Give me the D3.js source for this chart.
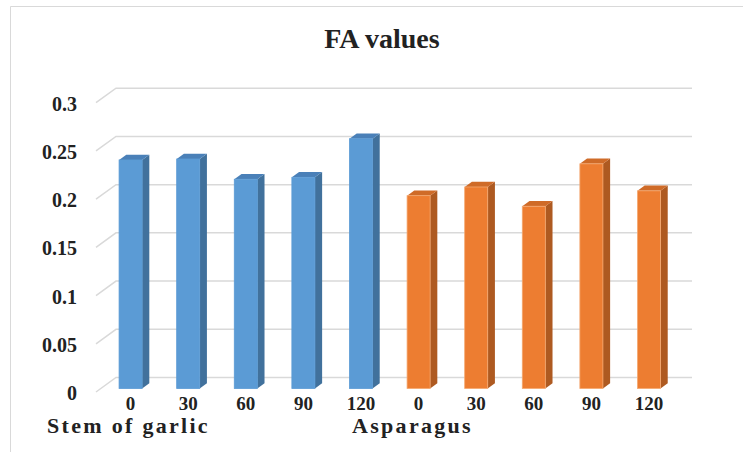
<!DOCTYPE html>
<meta charset="utf-8">
<style>
body { margin: 0; background: #fff; }
.grid { stroke: #d9d9d9; stroke-width: 1.5; fill: none; }
</style>
<svg width="743" height="452"></svg>
<script src="https://d3js.org/d3.v7.min.js"></script>
<script>

var groups = ["Stem of garlic", "Asparagus"];
var times = ["0", "30", "60", "90", "120"];
var garlic = [0.237, 0.238, 0.217, 0.219, 0.259];
var asparagus = [0.200, 0.209, 0.189, 0.233, 0.205];
var yTicks = [0, 0.05, 0.1, 0.15, 0.2, 0.25, 0.3];

var svg = d3.select("svg")
    .attr("font-family", "Liberation Serif")
    .attr("font-weight", "bold")
    .attr("fill", "#222");

// 3d box: front plane and a depth offset for the back wall
var depth = { dx: 20, dy: -14.5 };
var barDepth = { d0: 0.24, d1: 0.6 };

var cats = [];
groups.forEach(function(g, gi) {
  times.forEach(function(t, ti) {
    cats.push({ key: g + "|" + t, group: gi, time: t, value: (gi ? asparagus : garlic)[ti] });
  });
});

var x = d3.scaleBand()
    .domain(cats.map(function(d) { return d.key; }))
    .range([97, 673])
    .paddingInner(0.6)
    .paddingOuter(0.3);

var y = d3.scaleLinear()
    .domain([0, 0.3])
    .range([392, 102.7]);

var colors = [
  { front: "#5B9BD5", side: "#41719C", top: "#4A80B8", edge: "#5B9BD5" },
  { front: "#ED7D31", side: "#AE5A21", top: "#CF6B28", edge: "#F4A870" }
];

// border
svg.append("path")
    .attr("d", "M10.5,452V6.5H743")
    .attr("fill", "none")
    .attr("stroke", "#d9d9d9");

// title
svg.append("text")
    .attr("x", 382)
    .attr("y", 48)
    .attr("text-anchor", "middle")
    .attr("font-size", 28)
    .text("FA values");

// grid: side wall diagonals and back wall lines
var x0 = 96, x1 = 672;
var grid = svg.append("g");
yTicks.forEach(function(t) {
  grid.append("path")
      .attr("class", "grid")
      .attr("d", "M" + x0 + "," + y(t) + "l" + depth.dx + "," + depth.dy +
        "H" + (x1 + depth.dx));
});

// y tick labels
svg.append("g").selectAll("text")
  .data(yTicks)
  .join("text")
    .attr("x", 77)
    .attr("y", function(d) { return y(d) + 1; })
    .attr("dy", "0.35em")
    .attr("text-anchor", "end")
    .attr("font-size", 20)
    .text(function(d) { return d3.format("")(d); });

// bars
var ox = depth.dx * barDepth.d0, oy = depth.dy * barDepth.d0;
var sx = depth.dx * (barDepth.d1 - barDepth.d0), sy = depth.dy * (barDepth.d1 - barDepth.d0);
var w = x.bandwidth();

var bar = svg.append("g").selectAll("g")
  .data(cats)
  .join("g");

bar.append("path")
    .attr("fill", function(d) { return colors[d.group].side; })
    .attr("d", function(d) {
      var bx = x(d.key) + ox + w, top = y(d.value) + oy, bot = y(0) + oy;
      return "M" + bx + "," + top + "l" + sx + "," + sy + "V" + (bot + sy) + "L" + bx + "," + bot + "Z";
    });

bar.append("path")
    .attr("fill", function(d) { return colors[d.group].top; })
    .attr("d", function(d) {
      var bx = x(d.key) + ox, top = y(d.value) + oy;
      return "M" + bx + "," + top + "l" + sx + "," + sy + "h" + w + "l" + (-sx) + "," + (-sy) + "Z";
    });

bar.append("rect")
    .attr("x", function(d) { return x(d.key) + ox; })
    .attr("y", function(d) { return y(d.value) + oy; })
    .attr("width", w)
    .attr("height", function(d) { return y(0) - y(d.value); })
    .attr("fill", function(d) { return colors[d.group].front; })
    .attr("stroke", function(d) { return colors[d.group].edge; })
    .attr("stroke-width", 0.8);

// category labels
svg.append("g").selectAll("text")
  .data(cats)
  .join("text")
    .attr("x", function(d) { return x(d.key) + ox + w / 2; })
    .attr("y", 410)
    .attr("text-anchor", "middle")
    .attr("font-size", 19)
    .text(function(d) { return d.time; });

// group labels
var groupOffset = [-50, -33];
svg.append("g").selectAll("text")
  .data(groups)
  .join("text")
    .attr("x", function(d, i) { return x(d + "|" + times[0]) - x.step() * x.paddingInner() / 2 + groupOffset[i]; })
    .attr("y", 433)
    .attr("font-size", 22)
    .attr("letter-spacing", 2.3)
    .text(function(d) { return d; });

</script>
